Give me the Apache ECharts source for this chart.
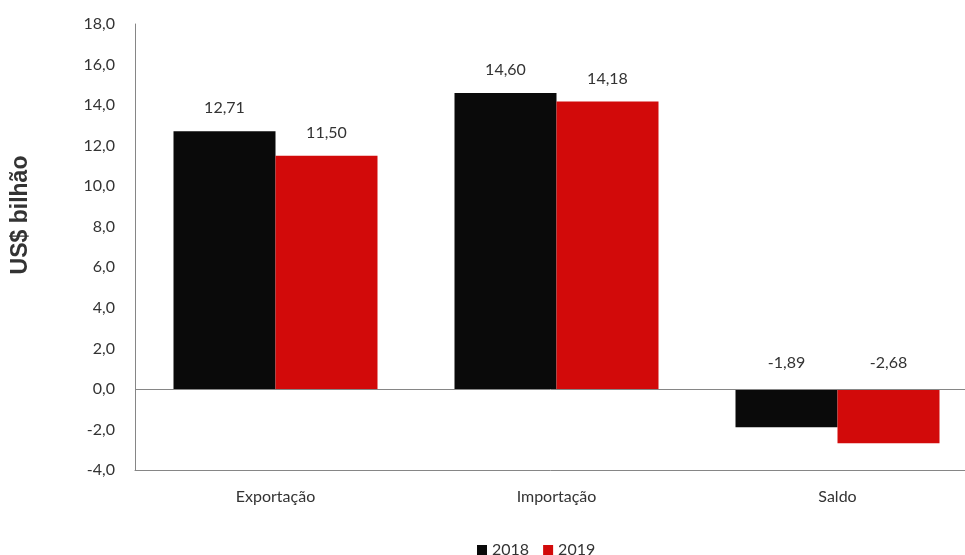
<!DOCTYPE html>
<html><head><meta charset="utf-8">
<script src="https://cdn.jsdelivr.net/npm/echarts@6/dist/echarts.min.js"></script>
<style>html,body{margin:0;padding:0;background:#fff}#c{width:965px;height:555px}</style>
</head><body><div id="c"></div>
<script>
const categories = ['Exportação', 'Importação', 'Saldo'];
const seriesNames = ['2018', '2019'];
const values2018 = [12.71, 14.60, -1.89];
const values2019 = [11.50, 14.18, -2.68];
const yTicks = { min: -4, max: 18, interval: 2 };
const yTitle = 'US$ bilhão';

const fmt = (v, d) => v.toFixed(d).replace('.', ',');
const font = 'Lato, "Liberation Sans", sans-serif';
const txt = '#333333';
const labelCfg = {
  show: true, position: 'top', color: txt, fontFamily: font, fontSize: 16,
  formatter: p => fmt(p.value, 2)
};
function mk(vals) {
  return vals.map(v => ({ value: v, label: { distance: v < 0 ? 18 : 15 } }));
}
const chart = echarts.init(document.getElementById('c'), null, { renderer: 'canvas' });
chart.setOption({
  animation: false,
  backgroundColor: '#ffffff',
  grid: { left: 135, width: 843, top: 24, height: 446, containLabel: false, outerBoundsMode: 'none' },
  legend: {
    data: seriesNames, left: 472, top: 537, itemWidth: 10, itemHeight: 10, itemGap: 14,
    icon: 'rect', textStyle: { color: txt, fontFamily: font, fontSize: 16 }
  },
  graphic: [{
    type: 'text', x: 21, y: 215, rotation: Math.PI / 2,
    style: { text: yTitle, fill: '#333333', font: 'bold 23px "Liberation Sans", Arial, sans-serif',
      textAlign: 'center', textVerticalAlign: 'middle' }
  }],
  xAxis: {
    type: 'category', data: categories,
    axisLine: { onZero: false, lineStyle: { color: '#868686', width: 1 } },
    axisTick: { show: false },
    axisLabel: { color: txt, fontFamily: font, fontSize: 16, margin: 19 }
  },
  yAxis: {
    type: 'value', min: yTicks.min, max: yTicks.max, interval: yTicks.interval,
    axisLine: { show: true, lineStyle: { color: '#868686', width: 1 } },
    axisTick: { show: false },
    splitLine: { show: false },
    axisLabel: { color: txt, fontFamily: font, fontSize: 16, margin: 20, formatter: v => fmt(v, 1) }
  },
  series: [
    { name: seriesNames[0], type: 'bar', data: mk(values2018), barWidth: 102, barGap: '0%',
      itemStyle: { color: '#0a0a0a' }, label: labelCfg,
      markLine: { silent: true, symbol: 'none', label: { show: false },
        lineStyle: { color: '#868686', width: 1, type: 'solid' }, data: [{ yAxis: 0 }] } },
    { name: seriesNames[1], type: 'bar', data: mk(values2019), barWidth: 102, barGap: '0%',
      itemStyle: { color: '#d20a0a' }, label: labelCfg }
  ]
});
</script></body></html>
